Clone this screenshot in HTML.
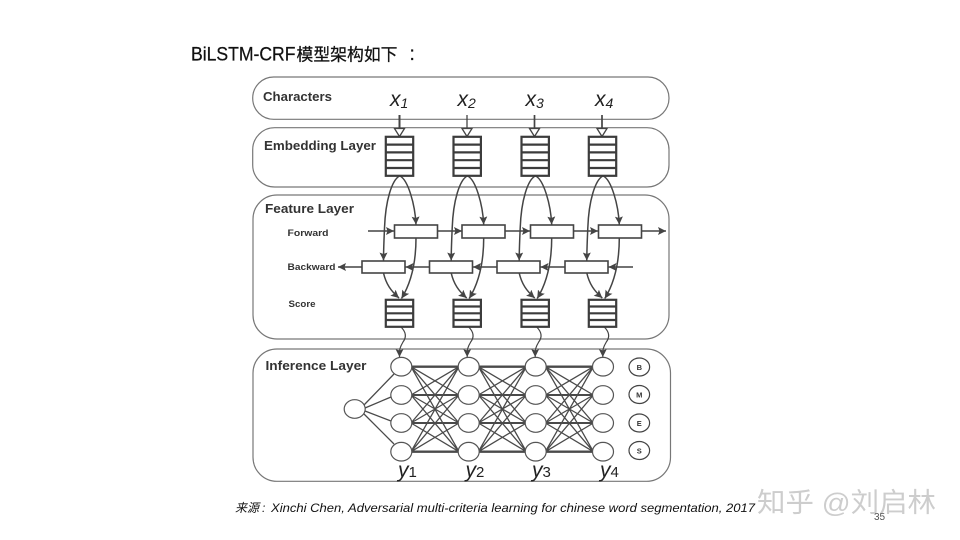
<!DOCTYPE html>
<html><head><meta charset="utf-8"><style>html,body{margin:0;padding:0;background:#fff}svg{display:block}</style></head><body>
<svg xmlns="http://www.w3.org/2000/svg" width="960" height="540" viewBox="0 0 960 540" font-family="'Liberation Sans','Noto Sans CJK SC',sans-serif">
<defs>
<marker id="a" markerUnits="userSpaceOnUse" markerWidth="9" markerHeight="8" refX="8" refY="4" orient="auto"><path d="M0 0L8 4L0 8L1.5 4z" fill="#444"/></marker>
<g id="stack5"><rect x="385.8" y="136.8" width="27.4" height="39" fill="#fff" stroke="#3c3c3c" stroke-width="2.2"/><path d="M386 144.6H413M386 152.4H413M386 160.2H413M386 168H413" stroke="#3c3c3c" stroke-width="2.2"/></g>
<g id="stack4"><rect x="385.8" y="299.8" width="27.4" height="27" fill="#fff" stroke="#3c3c3c" stroke-width="2.2"/><path d="M386 306.5H413M386 313.3H413M386 320H413" stroke="#3c3c3c" stroke-width="2.2"/></g>
<g id="col" fill="none" stroke="#444" stroke-width="1.5">
<path d="M399.5 176C392 180 385.5 200 384.5 228C384 240 383.5 250 383.5 260.5" marker-end="url(#a)"/>
<path d="M400 176C408 180 415 204 416 224.5" marker-end="url(#a)"/>
<path d="M416 238C416 262 411 283 401.5 298.5" marker-end="url(#a)"/>
<path d="M383.5 273C386 284 391 291 399 298" marker-end="url(#a)"/>
<path d="M401 327C407 333 406 338 403 342C400 347 399 351 399.5 354" stroke-width="1.2"/>
<path d="M399.5 352L399.5 357" marker-end="url(#a)" stroke-width="1.2"/>
</g>
<g id="fn" fill="none" stroke="#4a4a4a" stroke-width="1.3">
<path d="M411 366.7H459M411 451.7H459" stroke-width="2.4"/>
<path d="M411 395H459M411 423H459" stroke-width="1.9"/>
<path d="M411 366.7L459 395M411 366.7L459 423M411 366.7L459 451.7M411 395L459 366.7M411 395L459 423M411 395L459 451.7M411 423L459 366.7M411 423L459 395M411 423L459 451.7M411 451.7L459 366.7M411 451.7L459 395M411 451.7L459 423"/>
</g>
<g id="cs" fill="#fff" stroke="#555" stroke-width="1.2"><ellipse cx="401.3" cy="366.7" rx="10.5" ry="9.3"/><ellipse cx="401.3" cy="395" rx="10.5" ry="9.3"/><ellipse cx="401.3" cy="423" rx="10.5" ry="9.3"/><ellipse cx="401.3" cy="451.7" rx="10.5" ry="9.3"/></g>
</defs>
<rect width="960" height="540" fill="#fff"/>
<g fill="#111" stroke="#111" stroke-width="0.25">
<text x="191" y="60.5" font-size="19" textLength="104.5" lengthAdjust="spacingAndGlyphs">BiLSTM-CRF</text>
<text x="296.5" y="60.5" font-size="17" textLength="101" lengthAdjust="spacingAndGlyphs">模型架构如下</text>
<text x="409.5" y="60" font-size="19">:</text>
</g>

<g fill="none" stroke="#777" stroke-width="1.2">
<rect x="252.7" y="77" width="416.3" height="42.3" rx="21"/>
<rect x="252.7" y="127.7" width="416.3" height="59.3" rx="22"/>
<rect x="253" y="195" width="416" height="144" rx="24"/>
<rect x="253" y="349" width="417.5" height="132.3" rx="24"/>
</g>

<g font-weight="bold" fill="#333" font-size="12.5">
<text x="263" y="101" textLength="69" lengthAdjust="spacingAndGlyphs">Characters</text>
<text x="264" y="150" textLength="112" lengthAdjust="spacingAndGlyphs">Embedding Layer</text>
<text x="265" y="213" textLength="89" lengthAdjust="spacingAndGlyphs">Feature Layer</text>
<text x="265.5" y="370" textLength="101" lengthAdjust="spacingAndGlyphs">Inference Layer</text>
<g font-size="9.5">
<text x="287.5" y="236" textLength="41" lengthAdjust="spacingAndGlyphs">Forward</text>
<text x="287.5" y="270" textLength="48" lengthAdjust="spacingAndGlyphs">Backward</text>
<text x="288.5" y="307" textLength="27" lengthAdjust="spacingAndGlyphs">Score</text>
</g></g>

<g fill="#222" font-style="italic" font-size="21">
<text x="390" y="106">x<tspan font-size="14" dy="2">1</tspan></text>
<text x="457.5" y="106">x<tspan font-size="14" dy="2">2</tspan></text>
<text x="525.5" y="106">x<tspan font-size="14" dy="2">3</tspan></text>
<text x="595" y="106">x<tspan font-size="14" dy="2">4</tspan></text>
</g>
<g fill="#222" font-size="21">
<text x="398" y="477"><tspan font-style="italic">y</tspan><tspan font-size="15">1</tspan></text>
<text x="465.5" y="477"><tspan font-style="italic">y</tspan><tspan font-size="15">2</tspan></text>
<text x="532" y="477"><tspan font-style="italic">y</tspan><tspan font-size="15">3</tspan></text>
<text x="600" y="477"><tspan font-style="italic">y</tspan><tspan font-size="15">4</tspan></text>
</g>

<!-- input arrows -->
<g fill="#fff" stroke="#444" stroke-width="1.3">
<path d="M399.5 115V129" stroke-width="2"/><path d="M394.5 128.5H404.5L399.5 136.5z"/>
<path d="M467 115V129"/><path d="M462 128.5H472L467 136.5z"/>
<path d="M534.5 115V129" stroke-width="1.7"/><path d="M529.5 128.5H539.5L534.5 136.5z"/>
<path d="M602 115V129" stroke-width="1.7"/><path d="M597 128.5H607L602 136.5z"/>
</g>

<!-- curved links per column -->
<use href="#col"/><use href="#col" x="67.7"/><use href="#col" x="135.7"/><use href="#col" x="203.3"/>

<use href="#stack5"/><use href="#stack5" x="67.7"/><use href="#stack5" x="135.7"/><use href="#stack5" x="203"/>
<use href="#stack4"/><use href="#stack4" x="67.7"/><use href="#stack4" x="135.7"/><use href="#stack4" x="203"/>

<!-- horizontal arrows -->
<g fill="none" stroke="#444" stroke-width="1.4">
<path d="M368 231H394" marker-end="url(#a)"/>
<path d="M438 231H462" marker-end="url(#a)"/>
<path d="M505.5 231H530" marker-end="url(#a)"/>
<path d="M574 231H598" marker-end="url(#a)"/>
<path d="M642 231H666" marker-end="url(#a)"/>
<path d="M362 267H338" marker-end="url(#a)"/>
<path d="M429.5 267H405.5" marker-end="url(#a)"/>
<path d="M497 267H473" marker-end="url(#a)"/>
<path d="M564.5 267H540.5" marker-end="url(#a)"/>
<path d="M633 267H608.5" marker-end="url(#a)"/>
</g>
<g fill="#fff" stroke="#444" stroke-width="1.6">
<rect x="394.5" y="225" width="43" height="13"/><rect x="462" y="225" width="43" height="13"/><rect x="530.5" y="225" width="43" height="13"/><rect x="598.5" y="225" width="43" height="13"/>
<rect x="362" y="261" width="43" height="12"/><rect x="429.5" y="261" width="43" height="12"/><rect x="497" y="261" width="43" height="12"/><rect x="565" y="261" width="43" height="12"/>
</g>

<!-- inference network -->
<g fill="none" stroke="#4a4a4a" stroke-width="1.3"><path d="M364 405L394 374M365 408L391 397M365 411L391 421M364 414L394 444"/></g>
<use href="#fn"/><use href="#fn" x="67.4"/><use href="#fn" x="134.4"/>
<use href="#cs"/><use href="#cs" x="67.4"/><use href="#cs" x="134.4"/><use href="#cs" x="201.7"/>
<ellipse cx="354.7" cy="409" rx="10.5" ry="9.3" fill="#fff" stroke="#555" stroke-width="1.2"/>

<g fill="#fff" stroke="#444" stroke-width="1.2"><ellipse cx="639.3" cy="367" rx="10.3" ry="9"/><ellipse cx="639.3" cy="394.5" rx="10.3" ry="9"/><ellipse cx="639.3" cy="423" rx="10.3" ry="9"/><ellipse cx="639.3" cy="450.5" rx="10.3" ry="9"/></g>
<g font-size="7.5" font-weight="bold" fill="#333" text-anchor="middle"><text x="639.3" y="370">B</text><text x="639.3" y="397.5">M</text><text x="639.3" y="426">E</text><text x="639.3" y="453.5">S</text></g>

<g font-size="12" font-style="italic" fill="#111">
<text x="235" y="512" textLength="24" lengthAdjust="spacingAndGlyphs">来源</text>
<text x="262" y="512">:</text>
<text x="271" y="512" textLength="484" lengthAdjust="spacingAndGlyphs">Xinchi Chen, Adversarial multi-criteria learning for chinese word segmentation, 2017</text>
</g>
<text x="757" y="512" font-size="27" fill="#cdcdcd" textLength="179" lengthAdjust="spacingAndGlyphs">知乎 @刘启林</text>
<text x="874" y="520" font-size="10" fill="#555">35</text>
</svg>
</body></html>
